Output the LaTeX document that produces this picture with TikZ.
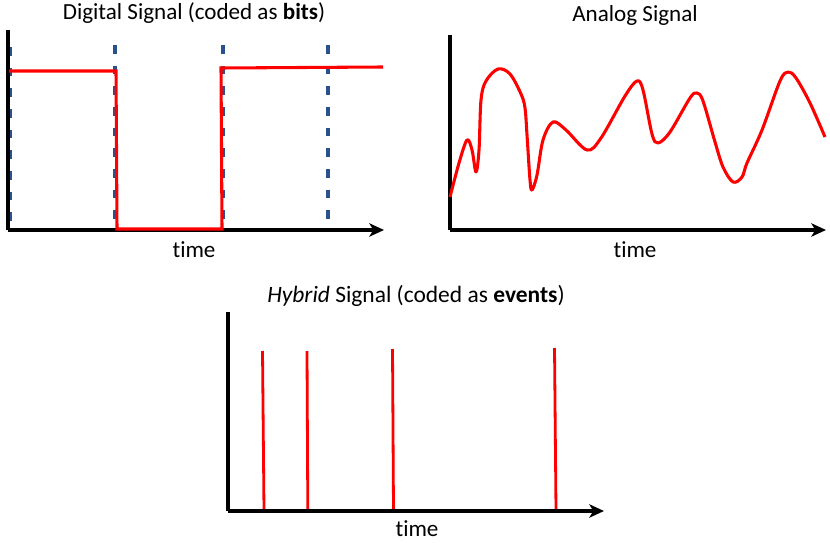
\documentclass[tikz,border=0pt]{standalone}
\usepackage{fontspec}
\setmainfont{Carlito}[Ligatures=NoCommon]
\usetikzlibrary{arrows.meta}
\definecolor{gridblue}{RGB}{41,82,140}
\tikzset{
  axis/.style={line width=2.4pt,-{Stealth[length=11pt,width=10pt,inset=3pt]}},
  vaxis/.style={line width=2.4pt},
  sig/.style={red,line width=2.3pt,line join=miter},
  spike/.style={red,line width=2.1pt},
  gridline/.style={gridblue,line width=2.3pt,dash pattern=on 6.5pt off 9pt},
  lbl/.style={font=\fontsize{17.3}{20}\selectfont,inner sep=0pt}
}
\begin{document}
\begin{tikzpicture}[x=0.75pt,y=-0.75pt]
\useasboundingbox (0,0) rectangle (830,542);
% ---------- Digital ----------
\node[lbl] (dtitle) at (194,13) {Digital Signal (coded as \textbf{bits})};
\node[lbl] (dtime) at (194,250) {time};
\coordinate (dO) at (8,230);
\coordinate (dY) at (8,30);
\coordinate (dX) at (384,230);
\draw[gridline] (10,47) -- (10,222);
\draw[gridline] (115,45) -- (115,222);
\draw[gridline] (223,45) -- (223,222);
\draw[gridline] (328,45) -- (328,222);
\draw[vaxis] (dY) -- (dO);
\draw[axis] (dO) -- (dX);
\draw[sig] (9,71) -- (116,71) -- (117,229) -- (222,229) -- (221,68) -- (383,67);
% ---------- Analog ----------
\node[lbl] (atitle) at (635,15) {Analog Signal};
\node[lbl] (atime) at (635,250) {time};
\coordinate (aO) at (450,230);
\coordinate (aY) at (450,35);
\coordinate (aX) at (826,230);
\draw[vaxis] (aY) -- (aO);
\draw[axis] (aO) -- (aX);
\draw[sig,line join=round] plot[smooth,tension=0.55] coordinates {
(450,197) (459,163) (467,140) (472,150) (476,172) (479,150) (481,100)
(486,81) (498,69) (510,74) (521,94) (525,108) (527,135) (530,180)
(532,190) (537,175) (543,140) (553,122) (566,130) (587,150) (601,138)
(625,96) (637,81) (643,90) (652,134) (658,143) (670,132) (690,98)
(697,93) (703,101) (715,142) (723,167) (733,182) (742,177) (747,163)
(762,130) (780,81) (788,72) (796,78) (810,103) (825,137)};
% ---------- Hybrid ----------
\node[lbl,font=\fontsize{17.6}{20}\selectfont] (htitle) at (416,296) {\textit{Hybrid} Signal (coded as \textbf{events})};
\node[lbl] (htime) at (417,529) {time};
\coordinate (hO) at (228,511);
\coordinate (hY) at (228,312);
\coordinate (hX) at (604,511);
\draw[spike] (262.5,351) -- (264,511);
\draw[spike] (307,351) -- (307.8,511);
\draw[spike] (392.5,349) -- (393.5,511);
\draw[spike] (554.5,348) -- (556,511);
\draw[vaxis] (hY) -- (hO);
\draw[axis] (hO) -- (hX);
\end{tikzpicture}
\end{document}
